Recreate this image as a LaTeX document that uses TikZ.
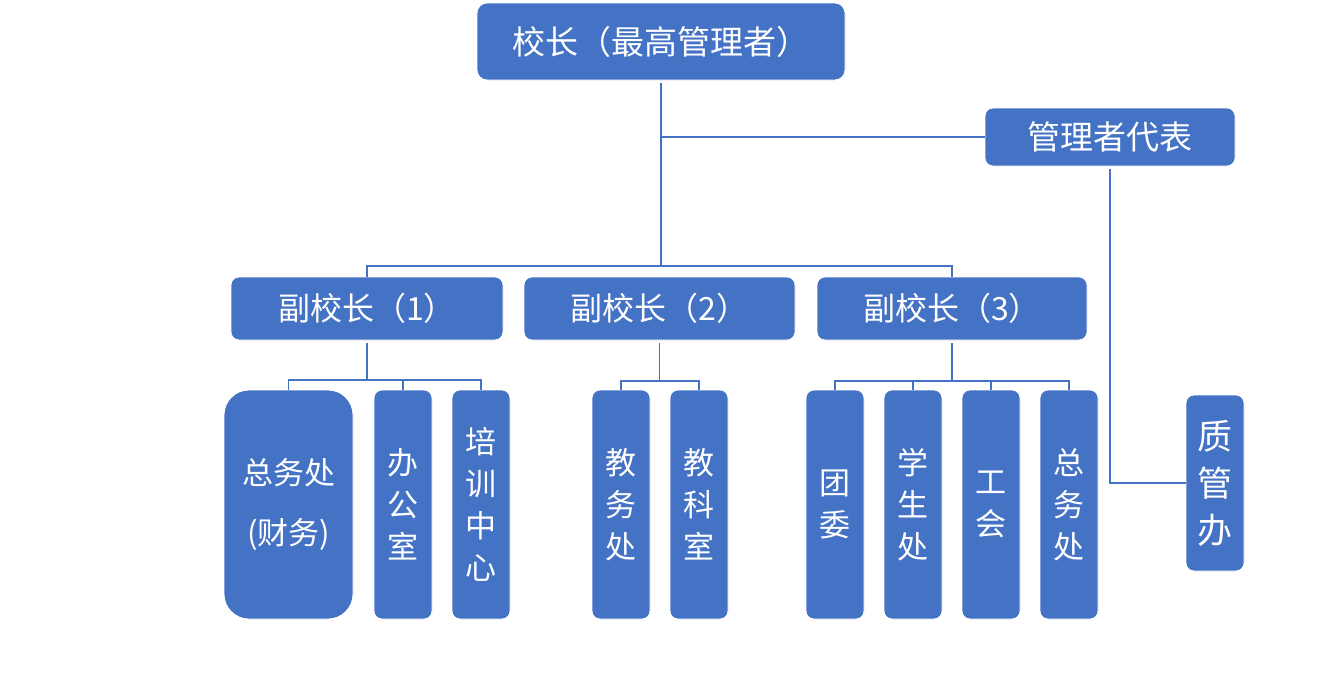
\documentclass[tikz,border=0pt]{standalone}
\usepackage{fontspec}
\newfontfamily\cjk{Noto Sans CJK SC}
\definecolor{boxblue}{HTML}{4472C4}
\begin{document}
\begin{tikzpicture}[x=1pt,y=-1pt,
  bx/.style={fill=boxblue, draw=white, line width=0.8pt, rounded corners=8pt, text=white,
    font=\cjk\fontsize{31}{42}\selectfont, inner sep=0pt, align=center},
  ln/.style={draw=boxblue, line width=1.8pt},
  pl/.style={ln, shorten <=3pt}]
\useasboundingbox[fill=white] (0,0) rectangle (1323,696);

% top levels
\node[bx, minimum width=368, minimum height=77, rounded corners=10pt, font=\cjk\fontsize{33}{40}\selectfont] (top) at (661,41.5) {校长（最高管理者）};
\node[bx, minimum width=250, minimum height=58, font=\cjk\fontsize{33}{40}\selectfont] (mgr) at (1110,137) {管理者代表};
\node[bx, minimum width=272, minimum height=63, font=\cjk\fontsize{32}{40}\selectfont] (v1) at (367,308.5) {副校长（1）};
\node[bx, minimum width=271, minimum height=63, font=\cjk\fontsize{32}{40}\selectfont] (v2) at (659.5,308.5) {副校长（2）};
\node[bx, minimum width=270, minimum height=63, font=\cjk\fontsize{32}{40}\selectfont] (v3) at (952,308.5) {副校长（3）};

% children
\node[bx, minimum width=129, minimum height=229, rounded corners=25pt, font=\cjk\fontsize{31}{60}\selectfont] (c11) at (288.5,504.5) {总务处\\(财务)};
\node[bx, minimum width=58, minimum height=229] (c12) at (403,504.5) {办\\公\\室};
\node[bx, minimum width=58, minimum height=229] (c13) at (481,504.5) {培\\训\\中\\心};
\node[bx, minimum width=58, minimum height=229] (c21) at (621,504.5) {教\\务\\处};
\node[bx, minimum width=58, minimum height=229] (c22) at (699,504.5) {教\\科\\室};
\node[bx, minimum width=58, minimum height=229] (c31) at (835,504.5) {团\\委};
\node[bx, minimum width=58, minimum height=229] (c32) at (913,504.5) {学\\生\\处};
\node[bx, minimum width=58, minimum height=229] (c33) at (991,504.5) {工\\会};
\node[bx, minimum width=58, minimum height=229] (c34) at (1069,504.5) {总\\务\\处};
\node[bx, minimum width=58, minimum height=176, font=\cjk\fontsize{35}{47}\selectfont] (zgb) at (1215,483) {质\\管\\办};

% connectors
\coordinate (busA) at (661,266);
\draw[pl] (top.south) -- (busA);
\draw[ln] (top.south |- mgr.west) -- (mgr.west);
\draw[ln] (v1.north) |- (busA);
\draw[ln] (v3.north) |- (busA);
\draw[pl] (mgr.south) |- (zgb.west);

\coordinate (s1) at (367,380);
\draw[pl] (v1.south) -- (s1);
\foreach \c in {c11,c12,c13} \draw[ln] (\c.north) |- (s1);

\coordinate (s2) at (659.5,381);
\draw[pl] (v2.south) -- (s2);
\foreach \c in {c21,c22} \draw[ln] (\c.north) |- (s2);

\coordinate (s3) at (952,381);
\draw[pl] (v3.south) -- (s3);
\foreach \c in {c31,c32,c33,c34} \draw[ln] (\c.north) |- (s3);
\end{tikzpicture}
\end{document}
